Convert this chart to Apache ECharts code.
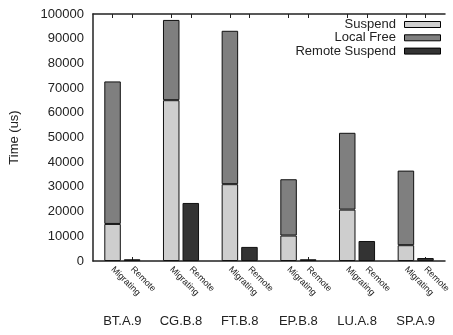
<!DOCTYPE html>
<html>
<head>
<meta charset="utf-8">
<script src="https://cdn.jsdelivr.net/npm/echarts@6/dist/echarts.min.js"></script>
<style>html,body{margin:0;padding:0;background:#fff;}#c{width:453px;height:335px;}</style>
</head>
<body>
<div id="c"></div>
<script>
const groups = ['BT.A.9', 'CG.B.8', 'FT.B.8', 'EP.B.8', 'LU.A.8', 'SP.A.9'];
const barNames = ['Migrating', 'Remote'];
const suspend = [15000, 65100, 31100, 10300, 20800, 6400];
const localFree = [57700, 32500, 62100, 22800, 31100, 30200];
const remoteSuspend = [700, 23500, 5700, 700, 8100, 1200];
const yTicks = { min: 0, max: 100000, interval: 10000 };

// Build slot categories: leading empty slot, then [Migrating, Remote, gap] per group
const cats = ['s0'];
const sData = [null], lData = [null], rData = [null];
groups.forEach((g, i) => {
  cats.push(g + '|' + barNames[0]); sData.push(suspend[i]); lData.push(localFree[i]); rData.push(null);
  cats.push(g + '|' + barNames[1]); sData.push(null); lData.push(null); rData.push(remoteSuspend[i]);
  cats.push('s' + (i + 1)); sData.push(null); lData.push(null); rData.push(null);
});

const FONT = 'Liberation Sans, Arial, Helvetica, sans-serif';
const INK = '#222';
const tickFn = (idx) => idx % 3 !== 0;

const chart = echarts.init(document.getElementById('c'), null, { renderer: 'canvas' });
chart.setOption({
  animation: false,
  textStyle: { fontFamily: FONT },
  grid: { left: 92, top: 14, bottom: 74, width: 363.6, containLabel: false },
  legend: {
    orient: 'vertical', right: 12, top: 18, padding: 0, itemGap: 0.3,
    align: 'right', itemWidth: 36, itemHeight: 6,
    icon: 'rect',
    itemStyle: { borderColor: '#000', borderWidth: 1 },
    formatter: (n) => n + ' ',
    textStyle: { fontSize: 13, color: INK, fontFamily: FONT, lineHeight: 13 },
    data: ['Suspend', 'Local Free', 'Remote Suspend']
  },
  xAxis: [
    {
      type: 'category', data: cats, boundaryGap: false, position: 'bottom',
      axisLine: { show: true, lineStyle: { color: INK, width: 1.5 } },
      axisTick: { show: true, inside: true, length: 4, interval: tickFn, lineStyle: { color: INK } },
      axisLabel: {
        show: true, interval: tickFn, rotate: -45, fontSize: 9, color: INK, margin: 7, fontFamily: FONT,
        formatter: (v) => v.indexOf('|') >= 0 ? v.split('|')[1] : ''
      },
      splitLine: { show: false }
    },
    {
      type: 'category', data: cats, boundaryGap: false, position: 'top',
      axisLine: { show: true, lineStyle: { color: INK, width: 1.5 } },
      axisTick: { show: true, inside: true, length: 4, interval: tickFn, lineStyle: { color: INK } },
      axisLabel: { show: false }, splitLine: { show: false }
    },
    {
      type: 'category', data: groups, boundaryGap: true, position: 'bottom', offset: 46,
      axisLine: { show: false }, axisTick: { show: false }, splitLine: { show: false },
      axisLabel: { show: true, interval: 0, fontSize: 13, color: INK, margin: 8, fontFamily: FONT }
    }
  ],
  yAxis: {
    type: 'value', min: yTicks.min, max: yTicks.max, interval: yTicks.interval,
    name: 'Time (us)', nameLocation: 'middle', nameGap: 72, nameRotate: 90,
    nameTextStyle: { fontSize: 13, color: INK, fontFamily: FONT },
    axisLine: { show: true, lineStyle: { color: INK, width: 1.5 } },
    axisTick: { show: false },
    axisLabel: { fontSize: 13, color: INK, margin: 9, fontFamily: FONT, formatter: (v) => String(v) },
    splitLine: { show: false }
  },
  series: [
    { name: 'Suspend', type: 'bar', stack: 'a', xAxisIndex: 0, barWidth: 16.5, data: sData,
      itemStyle: { color: '#cecece', borderColor: '#111', borderWidth: 1 } },
    { name: 'Local Free', type: 'bar', stack: 'a', xAxisIndex: 0, barWidth: 16.5, data: lData,
      itemStyle: { color: '#7f7f7f', borderColor: '#111', borderWidth: 1 } },
    { name: 'Remote Suspend', type: 'bar', stack: 'a', xAxisIndex: 0, barWidth: 16.5, data: rData,
      itemStyle: { color: '#333333', borderColor: '#111', borderWidth: 1 } }
  ]
});
</script>
</body>
</html>
